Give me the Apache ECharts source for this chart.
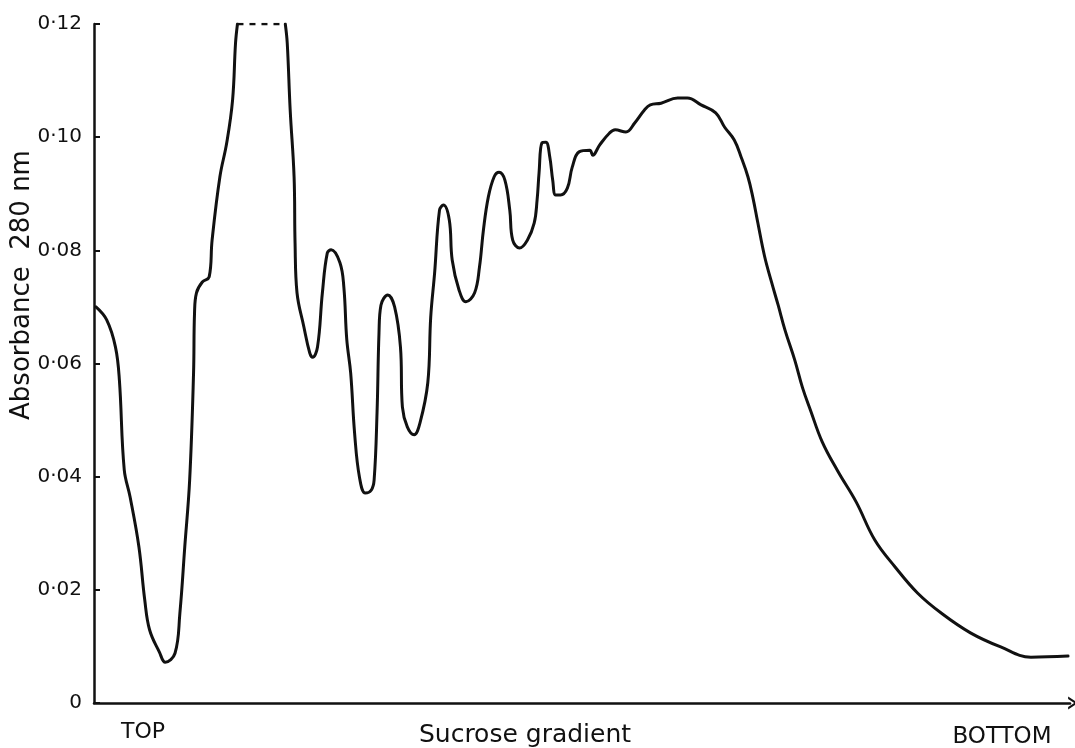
<!DOCTYPE html>
<html>
<head>
<meta charset="utf-8">
<script src="https://cdn.jsdelivr.net/npm/echarts@6/dist/echarts.min.js"></script>
<style>html,body{margin:0;padding:0;background:#fff;}#chart{width:1075px;height:748px;}</style>
</head>
<body>
<div id="chart"></div>
<script>
// Position along the gradient (0 = top, 100 = bottom of tube, arbitrary units)
const position = [0.2,1.3,2.2,2.6,3.1,3.7,4.6,5.2,5.7,6.7,7.3,8.3,8.8,9.3,9.8,10.2,10.3,10.5,11.1,11.8,12.1,12.9,13.6,14.2,14.5,14.7,
  19.6,19.8,20.1,20.5,20.6,20.8,21.5,22.1,22.4,22.9,23.4,23.9,24.3,25.2,25.6,25.9,26.3,26.7,27.2,27.8,28.4,28.7,29.0,29.2,29.4,30.1,30.8,31.4,31.6,32.1,32.8,33.4,34.2,34.5,34.9,35.4,35.8,36.4,36.7,37.4,38.1,39.0,39.5,39.9,40.4,41.0,41.5,42.1,42.6,42.9,43.6,44.4,45.1,45.4,45.6,45.9,46.3,46.7,47.0,47.3,47.8,48.5,49.0,49.7,50.8,51.1,51.8,52.8,53.4,54.5,55.4,56.4,57.0,58.1,59.8,60.8,62.2,63.7,64.6,65.6,66.3,67.0,67.5,68.0,68.7,69.4,70.1,70.8,71.8,72.6,73.4,74.6,76.2,78.1,80.0,82.1,84.4,86.8,89.8,92.9,96.0,99.8];
// Absorbance at 280 nm
const absorbance = [0.0700,0.0677,0.0629,0.0571,0.0412,0.0364,0.0276,0.0182,0.0129,0.0090,0.0072,0.0088,0.0159,0.0276,0.0394,0.0583,0.0689,0.0725,0.0744,0.0753,0.0818,0.0930,0.0990,0.1066,0.1166,0.1200,
  0.1200,0.1166,0.1048,0.0930,0.0813,0.0725,0.0665,0.0619,0.0611,0.0629,0.0725,0.0795,0.0801,0.0778,0.0735,0.0642,0.0583,0.0477,0.0399,0.0371,0.0376,0.0394,0.0513,0.0654,0.0703,0.0721,0.0700,0.0629,0.0523,0.0488,0.0474,0.0495,0.0566,0.0682,0.0760,0.0871,0.0880,0.0854,0.0783,0.0730,0.0709,0.0725,0.0771,0.0836,0.0894,0.0930,0.0938,0.0924,0.0871,0.0818,0.0804,0.0818,0.0848,0.0889,0.0937,0.0990,0.0991,0.0965,0.0924,0.0898,0.0898,0.0910,0.0947,0.0974,0.0977,0.0968,0.0986,0.1007,0.1013,0.1009,0.1025,0.1048,0.1057,0.1060,0.1069,0.1069,0.1057,0.1043,0.1018,0.0995,0.0965,0.0930,0.0894,0.0850,0.0790,0.0745,0.0703,0.0659,0.0606,0.0557,0.0518,0.0462,0.0410,0.0355,0.0288,0.0240,0.0194,0.0159,0.0124,0.0099,0.0081,0.0083];
// Range where the recorder trace went off scale (drawn dashed at the top)
const offScale = [14.7, 19.6];
const yTicks = [0, 0.02, 0.04, 0.06, 0.08, 0.10, 0.12];
const xLabels = ['TOP', 'Sucrose gradient', 'BOTTOM'];
const yName = 'Absorbance  280 nm';

const pts = position.map((x, i) => [x, absorbance[i]]);
const seg1 = pts.filter(p => p[0] <= offScale[0]);
const seg2 = pts.filter(p => p[0] >= offScale[1]);
const yMax = yTicks[yTicks.length - 1];
const dash = [[offScale[0], yMax], [offScale[1], yMax]];

const FONT = 'DejaVu Sans';
const INK = '#111';
const lineBase = { type: 'line', showSymbol: false, smooth: 0.4, silent: true,
  lineStyle: { color: INK, width: 3, cap: 'round', join: 'round' } };

const chart = echarts.init(document.getElementById('chart'));
chart.setOption({
  backgroundColor: '#fff',
  animation: false,
  grid: { left: 94, right: 5, top: 24, bottom: 45 },
  xAxis: {
    type: 'value', min: 0, max: 100,
    axisLine: { show: true, lineStyle: { color: INK, width: 2.5 },
      symbol: ['none', 'path://M0,12 L8,0 L16,12 L13,12 L8,4.5 L3,12 Z'], symbolSize: [13, 11], symbolOffset: [0, 3] },
    axisTick: { show: false }, axisLabel: { show: false }, splitLine: { show: false }
  },
  yAxis: {
    type: 'value', min: 0, max: yMax, interval: 0.02,
    axisLine: { show: true, lineStyle: { color: INK, width: 2.5 } },
    axisTick: { show: true, inside: true, length: 6, lineStyle: { color: INK, width: 2 } },
    axisLabel: { color: INK, fontFamily: FONT, fontSize: 20, margin: 12,
      formatter: v => v === 0 ? '0' : v.toFixed(2).replace('.', '\u00B7') },
    splitLine: { show: false }
  },
  series: [
    Object.assign({}, lineBase, { data: seg1 }),
    Object.assign({}, lineBase, { data: dash, smooth: false, lineStyle: { color: INK, width: 2.5, type: [6, 6] } }),
    Object.assign({}, lineBase, { data: seg2 })
  ],
  graphic: [
    { type: 'text', x: 22, y: 285, rotation: Math.PI / 2,
      style: { text: yName, fill: INK, font: '26px "' + FONT + '"', align: 'center', verticalAlign: 'middle' } },
    { type: 'text', x: 143, y: 732, style: { text: xLabels[0], fill: INK, font: '22px "' + FONT + '"', align: 'center', verticalAlign: 'middle' } },
    { type: 'text', x: 525, y: 735, style: { text: xLabels[1], fill: INK, font: '25px "' + FONT + '"', align: 'center', verticalAlign: 'middle' } },
    { type: 'text', x: 1002, y: 737, style: { text: xLabels[2], fill: INK, font: '23px "' + FONT + '"', align: 'center', verticalAlign: 'middle' } }
  ]
});
</script>
</body>
</html>
